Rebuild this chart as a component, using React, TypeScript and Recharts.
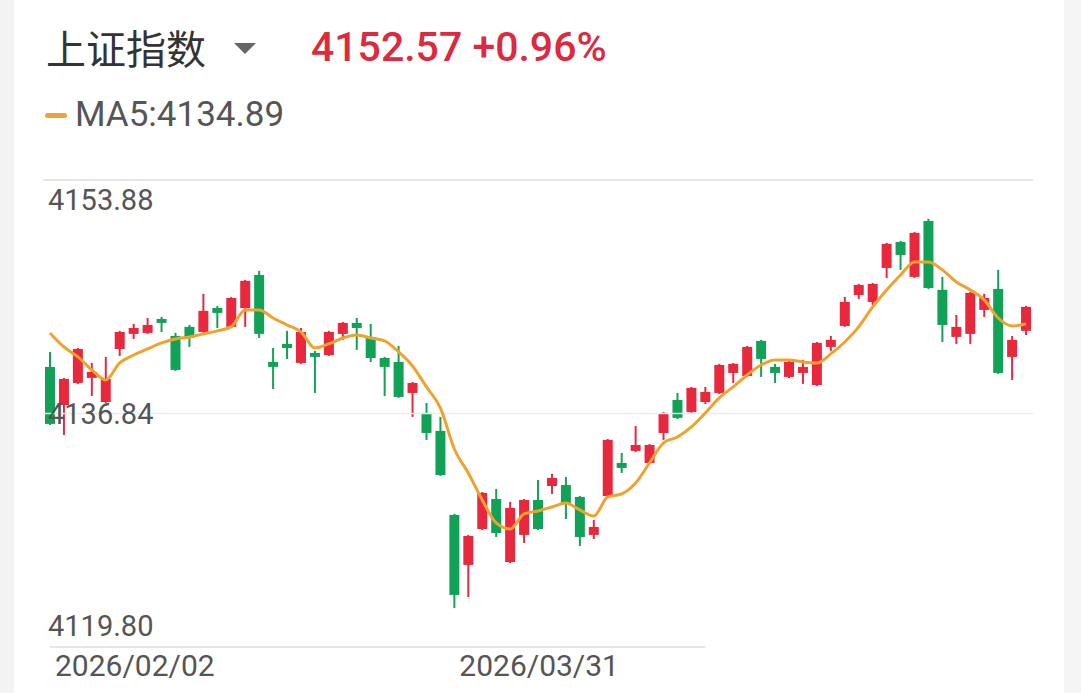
import React from 'react';
import {
  ComposedChart,
  Bar,
  Line,
  XAxis,
  YAxis,
  ReferenceLine,
} from 'recharts';

const openP = [
  4140.24, 4137.46, 4139.07, 4139.44, 4137.68, 4141.55, 4142.65, 4142.72, 4143.74, 4142.5,
  4143.16, 4142.79, 4144.54, 4143.16, 4144.54, 4146.95, 4140.6, 4141.92, 4140.53, 4141.26,
  4141.11, 4142.65, 4143.45, 4142.43, 4140.89, 4140.6, 4138.34, 4136.88, 4135.57, 4129.44,
  4125.79, 4128.41, 4130.6, 4126.0, 4127.98, 4130.53, 4131.55, 4131.62, 4130.75, 4127.98,
  4130.82, 4133.23, 4134.11, 4133.23, 4135.42, 4137.83, 4136.95, 4137.68, 4138.34, 4139.8,
  4139.58, 4142.14, 4140.24, 4139.51, 4139.8, 4138.92, 4141.7, 4143.23, 4145.49, 4144.98,
  4147.46, 4149.36, 4146.81, 4150.89, 4145.86, 4142.43, 4142.65, 4144.4, 4145.93, 4140.97,
  4142.87,
];

const closeP = [
  4136.08, 4139.36, 4141.55, 4139.87, 4139.36, 4142.79, 4143.08, 4143.3, 4143.45, 4140.02,
  4142.35, 4144.33, 4144.18, 4145.27, 4146.52, 4142.65, 4140.24, 4141.62, 4142.79, 4140.97,
  4142.79, 4143.45, 4143.08, 4140.89, 4140.24, 4138.05, 4139.07, 4135.42, 4132.35, 4123.6,
  4127.9, 4131.04, 4128.12, 4129.95, 4130.53, 4128.41, 4132.14, 4130.31, 4127.83, 4128.56,
  4134.91, 4132.87, 4134.54, 4134.54, 4136.88, 4136.52, 4138.71, 4138.41, 4140.38, 4140.46,
  4141.7, 4140.82, 4139.8, 4140.6, 4140.24, 4141.99, 4142.21, 4144.98, 4146.22, 4146.3,
  4149.22, 4148.41, 4150.02, 4146.0, 4143.3, 4143.16, 4145.64, 4145.27, 4139.8, 4142.21,
  4144.62,
];

const highP = [
  4141.33, 4139.43, 4141.62, 4140.53, 4140.97, 4142.87, 4143.38, 4143.81, 4143.89, 4142.72,
  4143.3, 4145.57, 4144.69, 4145.35, 4146.59, 4147.25, 4141.62, 4142.87, 4143.08, 4141.41,
  4142.87, 4143.52, 4143.81, 4143.38, 4140.97, 4141.77, 4139.14, 4137.61, 4136.59, 4129.51,
  4127.98, 4131.11, 4131.33, 4130.38, 4130.6, 4131.99, 4132.43, 4132.21, 4130.82, 4129.07,
  4134.98, 4133.96, 4135.93, 4134.61, 4136.95, 4138.34, 4138.78, 4138.78, 4140.46, 4140.53,
  4141.77, 4142.21, 4140.46, 4140.68, 4140.75, 4142.06, 4142.5, 4145.35, 4146.3, 4146.37,
  4149.29, 4149.44, 4150.09, 4151.04, 4146.81, 4144.03, 4145.71, 4145.57, 4147.32, 4142.5,
  4144.69,
];

const lowP = [
  4136.0, 4135.27, 4139.0, 4138.12, 4137.61, 4141.04, 4142.28, 4142.65, 4142.79, 4139.95,
  4141.7, 4142.72, 4143.08, 4143.08, 4143.16, 4142.35, 4138.63, 4140.82, 4140.46, 4138.34,
  4141.04, 4142.21, 4141.48, 4140.6, 4138.12, 4137.98, 4136.59, 4134.91, 4132.28, 4122.65,
  4123.45, 4128.34, 4127.83, 4125.93, 4127.39, 4128.34, 4130.97, 4129.14, 4127.17, 4127.68,
  4130.75, 4132.5, 4134.03, 4133.16, 4134.91, 4136.44, 4136.88, 4137.54, 4138.27, 4139.07,
  4139.51, 4139.51, 4139.07, 4139.43, 4139.0, 4138.85, 4141.41, 4143.16, 4145.2, 4144.76,
  4146.73, 4147.32, 4146.73, 4145.93, 4142.06, 4141.92, 4141.92, 4143.89, 4139.73, 4139.29,
  4142.57,
];

const ma5 = [
  4142.72, 4141.7, 4140.97, 4140.02, 4139.29, 4140.53, 4141.11, 4141.55, 4141.99, 4142.28,
  4142.43, 4142.65, 4142.87, 4143.16, 4144.4, 4144.4, 4143.81, 4143.3, 4142.79, 4141.62,
  4141.92, 4142.35, 4142.57, 4142.35, 4142.14, 4141.33, 4140.31, 4138.78, 4137.25, 4134.25,
  4132.5, 4130.53, 4128.85, 4128.41, 4129.51, 4129.73, 4130.02, 4130.31, 4129.8, 4129.36,
  4130.75, 4130.97, 4131.77, 4133.23, 4134.69, 4135.13, 4135.86, 4136.88, 4137.98, 4138.78,
  4139.65, 4140.38, 4140.75, 4140.75, 4140.6, 4140.53, 4141.19, 4142.06, 4143.16, 4144.62,
  4145.86, 4146.95, 4147.9, 4147.9, 4147.32, 4146.44, 4145.86, 4145.13, 4143.81, 4143.23,
  4143.38,
];

const yTicks = [4119.8, 4136.84, 4153.88];
const xTickIdx = [0, 29];
const xTickLabels = ['2026/02/02', '2026/03/31'];

const RED = '#e8283c';
const GREEN = '#12a257';
const ORANGE = '#f0a22e';

const data = openP.map((o, i) => ({
  idx: i,
  open: o,
  close: closeP[i],
  high: highP[i],
  low: lowP[i],
  range: [lowP[i], highP[i]],
  ma5: ma5[i],
}));

const Candle = (props: any) => {
  const { x, y, width, height, payload } = props;
  if (!payload) return null;
  const { open, close, high, low } = payload;
  const top = Math.min(y, y + height);
  const h = Math.abs(height);
  const ratio = h / (high - low);
  const color = close >= open ? RED : GREEN;
  const bodyTop = top + (high - Math.max(open, close)) * ratio;
  const bodyH = Math.max(Math.abs(open - close) * ratio, 2);
  const cx = x + width / 2;
  return (
    <g>
      <line x1={cx} x2={cx} y1={top} y2={top + h} stroke={color} strokeWidth={2} />
      <rect x={x} y={bodyTop} width={width} height={bodyH} fill={color} />
    </g>
  );
};

const YTick = (props: any) => {
  const { y, payload } = props;
  const v = payload.value;
  // labels sit under the top line, on the middle line, above the bottom line
  const dy = v === yTicks[2] ? 20 : v === yTicks[0] ? -21 : 0;
  return (
    <text x={48} y={y + dy} dominantBaseline="central" fill="#555" fontSize={29} fontFamily="Roboto">
      {v.toFixed(2)}
    </text>
  );
};

const XTick = (props: any) => {
  const { x, payload } = props;
  const k = xTickIdx.indexOf(payload.value);
  return (
    <text x={x + 5} y={665} dominantBaseline="central" fill="#555" fontSize={30} fontFamily="Roboto">
      {xTickLabels[k]}
    </text>
  );
};

export default function App() {
  return (
    <div
      style={{
        position: 'fixed',
        left: 0,
        top: 0,
        width: 1081,
        height: 693,
        background: '#fff',
        overflow: 'hidden',
        fontFamily: 'Roboto, "Noto Sans CJK SC", sans-serif',
      }}
    >
      <div style={{ position: 'absolute', left: 0, top: 0, width: 14, height: 693, background: '#f3f3f3' }} />
      <div style={{ position: 'absolute', left: 1064, top: 0, width: 17, height: 693, background: '#f5f5f5' }} />

      <div
        style={{
          position: 'absolute',
          left: 46,
          top: 24,
          fontSize: 40,
          lineHeight: '46px',
          color: '#333',
          fontFamily: '"Noto Sans CJK SC", sans-serif',
        }}
      >
        上证指数
      </div>
      <svg style={{ position: 'absolute', left: 234, top: 43 }} width={22} height={12}>
        <polygon points="0,0 22,0 11,11" fill="#666" />
      </svg>
      <div
        style={{
          position: 'absolute',
          left: 311,
          top: 24,
          fontSize: 41,
          lineHeight: '46px',
          fontWeight: 500,
          color: '#dc2a3e',
        }}
      >
        4152.57 +0.96%
      </div>

      <div
        style={{
          position: 'absolute',
          left: 45,
          top: 113,
          width: 22,
          height: 5,
          borderRadius: 3,
          background: '#eba43a',
        }}
      />
      <div
        style={{
          position: 'absolute',
          left: 75,
          top: 95,
          fontSize: 35,
          lineHeight: '40px',
          color: '#555',
        }}
      >
        MA5:4134.89
      </div>

      <ComposedChart
        width={1081}
        height={693}
        data={data}
        margin={{ top: 180, right: 48, bottom: 0, left: 0 }}
      >
        <XAxis
          dataKey="idx"
          height={46}
          axisLine={false}
          tickLine={false}
          ticks={xTickIdx}
          interval={0}
          tick={<XTick />}
        />
        <YAxis
          domain={[yTicks[0], yTicks[2]]}
          allowDataOverflow
          width={43}
          axisLine={false}
          tickLine={false}
          ticks={yTicks}
          interval={0}
          tick={<YTick />}
        />
        <ReferenceLine y={yTicks[2]} stroke="#e6e6e6" strokeWidth={2} ifOverflow="visible" />
        <ReferenceLine y={yTicks[1]} stroke="#ececec" strokeWidth={1.5} />
        <ReferenceLine
          segment={[
            { x: 0, y: yTicks[0] },
            { x: 47, y: yTicks[0] },
          ]}
          stroke="#e6e6e6"
          strokeWidth={2}
          ifOverflow="visible"
        />
        <Bar dataKey="range" barSize={10} shape={<Candle />} isAnimationActive={false} />
        <Line
          type="monotone"
          dataKey="ma5"
          stroke={ORANGE}
          strokeWidth={3}
          dot={false}
          isAnimationActive={false}
        />
      </ComposedChart>
    </div>
  );
}
